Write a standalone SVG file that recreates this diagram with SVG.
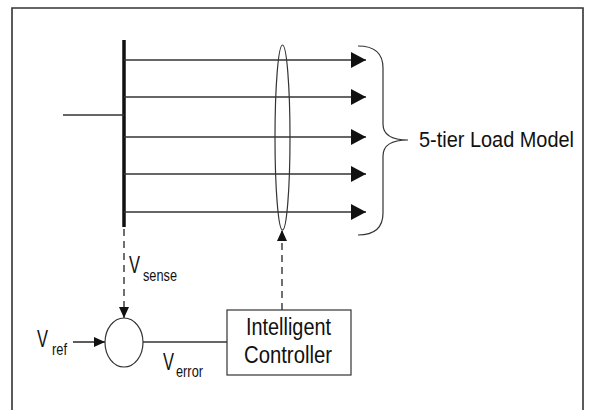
<svg xmlns="http://www.w3.org/2000/svg" width="591" height="410" viewBox="0 0 591 410">
<style>
.ln{stroke:#333;stroke-width:1.6;fill:none}
.thin{stroke:#333;stroke-width:1.2;fill:none}
.dash{stroke:#333;stroke-width:1.4;fill:none;stroke-dasharray:7 5}
text{font-family:"Liberation Sans",Arial,sans-serif;fill:#111}
</style>
<defs>
<marker id="big" markerUnits="userSpaceOnUse" markerWidth="16" markerHeight="18" refX="15" refY="8" orient="auto">
<path d="M0,0 L15,8 L0,16 Z" fill="#111"/>
</marker>
<marker id="sm" markerUnits="userSpaceOnUse" markerWidth="12" markerHeight="12" refX="11" refY="5" orient="auto">
<path d="M0,0 L11,5 L0,10 Z" fill="#111"/>
</marker>
</defs>
<rect width="591" height="410" fill="#fff"/>
<path d="M12,415 L12,8 L583,8 L583,415" class="ln"/>
<g id="bus">
<line x1="124" y1="40" x2="124" y2="227" stroke="#111" stroke-width="3.5"/>
</g>
<g id="connectors">
<line x1="63" y1="115" x2="124" y2="115" class="ln"/>
<line x1="124" y1="60" x2="366" y2="60" class="ln" marker-end="url(#big)"/>
<line x1="124" y1="97" x2="366" y2="97" class="ln" marker-end="url(#big)"/>
<line x1="124" y1="137" x2="366" y2="137" class="ln" marker-end="url(#big)"/>
<line x1="124" y1="174" x2="366" y2="174" class="ln" marker-end="url(#big)"/>
<line x1="124" y1="212" x2="366" y2="212" class="ln" marker-end="url(#big)"/>
<line x1="124" y1="229" x2="124" y2="318" class="dash" marker-end="url(#sm)"/>
<line x1="73" y1="342" x2="105" y2="342" class="ln" marker-end="url(#sm)"/>
<line x1="143" y1="342" x2="227" y2="342" class="ln"/>
<line x1="282" y1="310" x2="282" y2="230" class="dash" marker-end="url(#sm)"/>
</g>
<g id="selector">
<ellipse cx="282.5" cy="137.5" rx="7.5" ry="92.5" class="thin"/>
</g>
<g id="brace">
<path d="M358,46 Q383,46 383,68 L383,124 Q383,140 408,140 Q383,140 383,156 L383,213 Q383,235 358,235" class="thin"/>
<text x="419" y="147" font-size="22" textLength="155" lengthAdjust="spacingAndGlyphs">5-tier Load Model</text>
</g>
<g id="summer">
<ellipse cx="124" cy="342.5" rx="19" ry="24.5" class="thin"/>
</g>
<g id="controller">
<rect x="227" y="310" width="124" height="65" class="thin"/>
<text x="246" y="335" font-size="23" textLength="85" lengthAdjust="spacingAndGlyphs">Intelligent</text>
<text x="244" y="363" font-size="23" textLength="88" lengthAdjust="spacingAndGlyphs">Controller</text>
</g>
<g id="labels">
<text x="129" y="273" font-size="24" textLength="11" lengthAdjust="spacingAndGlyphs">V</text>
<text x="143" y="281" font-size="16" textLength="34" lengthAdjust="spacingAndGlyphs">sense</text>
<text x="37" y="347" font-size="24" textLength="11" lengthAdjust="spacingAndGlyphs">V</text>
<text x="52" y="355" font-size="16" textLength="15" lengthAdjust="spacingAndGlyphs">ref</text>
<text x="163" y="370" font-size="24" textLength="11" lengthAdjust="spacingAndGlyphs">V</text>
<text x="176" y="377" font-size="16" textLength="27" lengthAdjust="spacingAndGlyphs">error</text>
</g>
</svg>
